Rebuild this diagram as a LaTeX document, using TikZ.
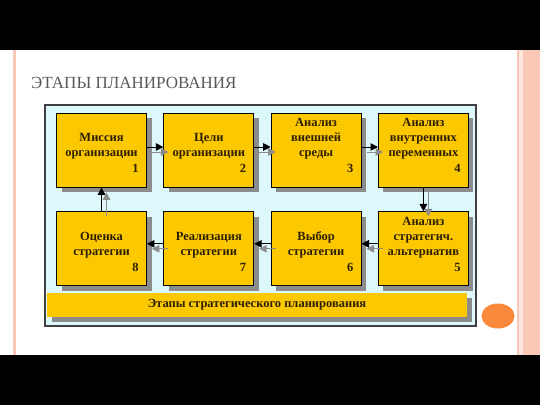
\documentclass[tikz,border=0pt]{standalone}
\usepackage{fontspec}
\setmainfont{Liberation Serif}
\usetikzlibrary{arrows.meta,positioning,shadows}

\definecolor{boxyellow}{HTML}{FCC800}
\definecolor{panelcyan}{HTML}{DCF8FA}
\definecolor{shadowgray}{HTML}{8C8C8C}
\definecolor{inkbrown}{HTML}{2E2000}
\definecolor{slidepink}{HTML}{F9C8B6}
\definecolor{dotorange}{HTML}{F98A3C}
\definecolor{titlegray}{HTML}{5A5A5A}

\begin{document}
\begin{tikzpicture}[x=1pt,y=-1pt,font=\bfseries\fontsize{12.5}{15}\selectfont,
  stage/.style={draw=black,line width=0.8pt,fill=boxyellow,minimum width=90pt,minimum height=74pt,inner sep=0pt,
    drop shadow={shadow xshift=5pt,shadow yshift=-5pt,fill=shadowgray,opacity=1}},
  stagetext/.style={text=inkbrown,align=center,inner sep=0pt},
  stagenum/.style={text=inkbrown,anchor=base east,inner sep=0pt},
  flow/.style={-{Triangle[length=7.5pt,width=7.5pt]},line width=1pt,black},
  flowshadow/.style={flow,shadowgray,transform canvas={xshift=5pt,yshift=-5pt}}]
\useasboundingbox (0,0) rectangle (540,405);

% slide frame
\fill[black] (0,0) rectangle (540,50);
\fill[black] (0,355) rectangle (540,405);
\fill[slidepink] (13,50) rectangle (15.5,355);
\fill[slidepink] (516.5,50) rectangle (518.5,355);
\fill[slidepink!45] (518.5,50) rectangle (523,355);
\fill[slidepink] (523,50) rectangle (540,355);
\fill[dotorange] (498,316) ellipse [x radius=16.5, y radius=12.5];

\node[anchor=base west,inner sep=0pt,text=titlegray,font=\fontsize{17}{20}\selectfont] (title) at (31,88) {ЭТАПЫ ПЛАНИРОВАНИЯ};

% panel
\draw[fill=panelcyan,draw=black!75,line width=1.5pt] (45,105) rectangle (476,326);

% stages
\node[stage] (b1) at (101.5,150) {};
\node[stage,right=16.5pt of b1] (b2) {};
\node[stage,right=16.5pt of b2] (b3) {};
\node[stage,right=16.5pt of b3] (b4) {};
\node[stage,below=24pt of b4] (b5) {};
\node[stage,left=16.5pt of b5] (b6) {};
\node[stage,left=16.5pt of b6] (b7) {};
\node[stage,left=16.5pt of b7] (b8) {};

\node[stagetext] (t1) at ([yshift=4pt]b1.center) {Миссия\\организации};
\node[stagetext] (t2) at ([yshift=4pt]b2.center) {Цели\\организации};
\node[stagetext] (t3) at ([yshift=11pt]b3.center) {Анализ\\внешней\\среды};
\node[stagetext] (t4) at ([yshift=11pt]b4.center) {Анализ\\внутренних\\переменных};
\node[stagetext] (t5) at ([yshift=11pt]b5.center) {Анализ\\стратегич.\\альтернатив};
\node[stagetext] (t6) at ([yshift=4pt]b6.center) {Выбор\\стратегии};
\node[stagetext] (t7) at ([yshift=4pt]b7.center) {Реализация\\стратегии};
\node[stagetext] (t8) at ([yshift=4pt]b8.center) {Оценка\\стратегии};

\foreach \i in {1,...,8}
  \node[stagenum] (n\i) at ([xshift=-8pt,yshift=15pt]b\i.south east) {\i};

% bottom band
\node[stage,draw=none,minimum width=420pt,minimum height=24pt] (band) at (257,305) {};
\node[stagetext] (bandtext) at (band.center) {Этапы стратегического планирования};

% connectors
\foreach \a/\b in {b1/b2,b2/b3,b3/b4}{
  \draw[flowshadow] ([yshift=3pt]\a.east) -- ([yshift=3pt]\b.west);
  \draw[flow] ([yshift=3pt]\a.east) -- ([yshift=3pt]\b.west);
}
\foreach \a/\b in {b5/b6,b6/b7,b7/b8}{
  \draw[flowshadow] ([yshift=5pt]\a.west) -- ([yshift=5pt]\b.east);
  \draw[flow] ([yshift=5pt]\a.west) -- ([yshift=5pt]\b.east);
}
\draw[flowshadow] (b4.south) -- (b5.north);
\draw[flow] (b4.south) -- (b5.north);
\draw[flowshadow] (b8.north) -- (b1.south);
\draw[flow] (b8.north) -- (b1.south);

\end{tikzpicture}
\end{document}
